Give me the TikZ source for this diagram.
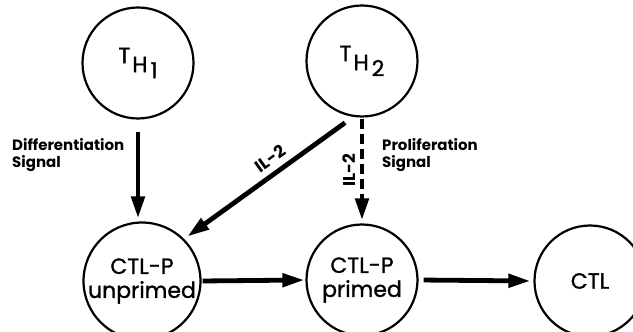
\documentclass[tikz,border=0pt]{standalone}
\usepackage{fontspec}
\setmainfont{Poppins}
\newfontfamily\cellfont{Poppins}[FakeBold=1.2]
\usetikzlibrary{arrows.meta}
\tikzset{
  cell/.style={circle, draw, line width=2.2pt, minimum size=111pt, inner sep=0pt,
    align=center, font=\cellfont\fontsize{22}{25}\selectfont},
  arr/.style={line width=4.8pt, -{Triangle[length=22pt,width=13pt]}},
  dasharr/.style={arr, dash pattern=on 10pt off 5pt},
  sig/.style={font=\bfseries\fontsize{15}{17}\selectfont, align=left, inner sep=0pt},
  il/.style={font=\bfseries\fontsize{17}{19}\selectfont, inner sep=0pt}
}
\begin{document}
\begin{tikzpicture}[x=1pt,y=1pt]
\useasboundingbox (0,0) rectangle (633,332);

% helper cells
\node[cell] (th1) at (138,269) {\raisebox{9pt}{T}\hspace{2pt}H\hspace{3pt}\raisebox{-6pt}{1}};
\node[cell] (th2) at (362,271) {\raisebox{9pt}{T}\hspace{2pt}H\hspace{3pt}\raisebox{-6pt}{2}};

% cytotoxic lineage
\node[cell] (ctlpu) at (142,51) {CTL-P\\[-1pt]unprimed};
\node[cell] (ctlpp) at (362,52) {CTL-P\\[-1pt]primed};
\node[cell] (ctl) at (590,51) {CTL};

% signals
\draw[arr, shorten <=12pt, shorten >=3pt] (th1.south) -- (th1.south |- ctlpu.north);
\draw[arr, shorten <=10pt, shorten >=4pt] (th2.261) -- node[il, sloped, above=6pt, pos=0.44] {IL-2} (ctlpu.45);
\draw[dasharr, shorten <=1pt, shorten >=3pt] (th2.south) -- node[il, pos=0.5, xshift=-13pt, rotate=90] {IL-2} (ctlpp.north);

% maturation
\draw[arr, shorten <=1pt, shorten >=1pt] (ctlpu.east) -- (ctlpp.west);
\draw[arr, shorten <=5pt, shorten >=3pt] (ctlpp.east) -- (ctl.west);

% signal labels
\node[sig, anchor=north west] (dif) at (12,194) {Differentiation\\Signal};
\node[sig, anchor=north west] (pro) at (382,194) {Proliferation\\Signal};
\end{tikzpicture}
\end{document}
